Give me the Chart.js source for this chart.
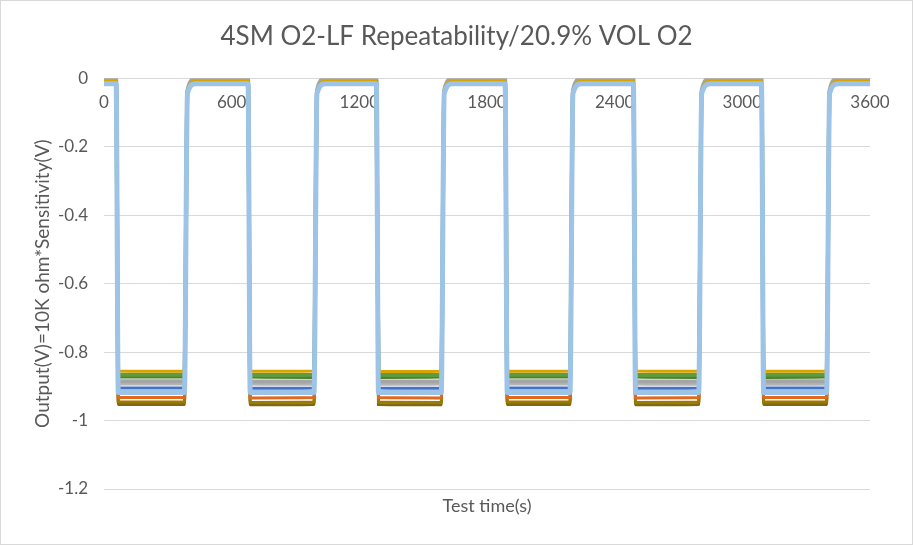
<!DOCTYPE html>
<html>
<head>
<meta charset="utf-8">
<script src="https://cdn.jsdelivr.net/npm/chart.js@4/dist/chart.umd.min.js"></script>
<style>
  body { margin: 0; background: #fff; }
  #wrap { position: relative; width: 913px; height: 545px; }
  #frame { position: absolute; left: 0; top: 0; width: 911px; height: 543px; border: 1px solid #d9d9d9; pointer-events: none; }
</style>
</head>
<body>
<div id="wrap">
  <canvas id="myChart" width="913" height="545"></canvas>
  <div id="frame"></div>
</div>
<script>
// test time (s) at the traced points of the curves
var timeS = [0,
  57, 67, 378, 392, 430,
  677, 687, 987, 1001, 1040,
  1280, 1290, 1585, 1599, 1638,
  1885, 1895, 2190, 2204, 2243,
  2488, 2498, 2795, 2809, 2848,
  3090, 3100, 3396, 3410, 3449,
  3600];

// output (V) of each sensor at those times
var lightBlue = [-0.016,
  -0.016, -0.918, -0.918, -0.045, -0.016,
  -0.016, -0.918, -0.918, -0.045, -0.016,
  -0.016, -0.918, -0.918, -0.045, -0.016,
  -0.016, -0.918, -0.918, -0.045, -0.016,
  -0.016, -0.918, -0.918, -0.045, -0.016,
  -0.016, -0.918, -0.918, -0.045, -0.016,
  -0.016];
var gold = [-0.008,
  -0.008, -0.855, -0.856, -0.040, -0.008,
  -0.008, -0.856, -0.855, -0.040, -0.008,
  -0.008, -0.857, -0.856, -0.040, -0.008,
  -0.008, -0.856, -0.855, -0.040, -0.008,
  -0.008, -0.855, -0.856, -0.040, -0.008,
  -0.008, -0.856, -0.855, -0.040, -0.008,
  -0.008];
var green = [-0.012,
  -0.012, -0.866, -0.866, -0.042, -0.012,
  -0.012, -0.867, -0.866, -0.042, -0.012,
  -0.012, -0.866, -0.867, -0.042, -0.012,
  -0.012, -0.866, -0.866, -0.042, -0.012,
  -0.012, -0.867, -0.866, -0.042, -0.012,
  -0.012, -0.866, -0.866, -0.042, -0.012,
  -0.012];
var darkGreen = [-0.014,
  -0.014, -0.873, -0.873, -0.044, -0.014,
  -0.014, -0.873, -0.874, -0.044, -0.014,
  -0.014, -0.874, -0.873, -0.044, -0.014,
  -0.014, -0.873, -0.873, -0.044, -0.014,
  -0.014, -0.873, -0.874, -0.044, -0.014,
  -0.014, -0.874, -0.873, -0.044, -0.014,
  -0.014];
var gray = [-0.001,
  -0.001, -0.885, -0.885, -0.035, -0.001,
  -0.001, -0.886, -0.885, -0.035, -0.001,
  -0.001, -0.885, -0.886, -0.035, -0.001,
  -0.001, -0.885, -0.885, -0.035, -0.001,
  -0.001, -0.886, -0.885, -0.035, -0.001,
  -0.001, -0.885, -0.885, -0.035, -0.001,
  -0.001];
var gray2 = [-0.010,
  -0.010, -0.893, -0.893, -0.040, -0.010,
  -0.010, -0.893, -0.894, -0.040, -0.010,
  -0.010, -0.894, -0.893, -0.040, -0.010,
  -0.010, -0.893, -0.893, -0.040, -0.010,
  -0.010, -0.893, -0.894, -0.040, -0.010,
  -0.010, -0.894, -0.893, -0.040, -0.010,
  -0.010];
var blue = [-0.018,
  -0.018, -0.905, -0.905, -0.048, -0.018,
  -0.018, -0.906, -0.905, -0.048, -0.018,
  -0.018, -0.905, -0.906, -0.048, -0.018,
  -0.018, -0.905, -0.905, -0.048, -0.018,
  -0.018, -0.906, -0.905, -0.048, -0.018,
  -0.018, -0.905, -0.905, -0.048, -0.018,
  -0.018];
var orange = [-0.012,
  -0.012, -0.933, -0.933, -0.045, -0.012,
  -0.012, -0.934, -0.933, -0.045, -0.012,
  -0.012, -0.933, -0.934, -0.045, -0.012,
  -0.012, -0.933, -0.933, -0.045, -0.012,
  -0.012, -0.934, -0.933, -0.045, -0.012,
  -0.012, -0.933, -0.933, -0.045, -0.012,
  -0.012];
var olive = [-0.009,
  -0.009, -0.946, -0.946, -0.042, -0.009,
  -0.009, -0.947, -0.946, -0.042, -0.009,
  -0.009, -0.946, -0.947, -0.042, -0.009,
  -0.009, -0.946, -0.946, -0.042, -0.009,
  -0.009, -0.947, -0.946, -0.042, -0.009,
  -0.009, -0.946, -0.946, -0.042, -0.009,
  -0.009];
var darkOlive = [-0.015,
  -0.015, -0.953, -0.953, -0.046, -0.015,
  -0.015, -0.954, -0.953, -0.046, -0.015,
  -0.015, -0.953, -0.954, -0.046, -0.015,
  -0.015, -0.953, -0.953, -0.046, -0.015,
  -0.015, -0.954, -0.953, -0.046, -0.015,
  -0.015, -0.953, -0.953, -0.046, -0.015,
  -0.015];

var yTicks = [0, -0.2, -0.4, -0.6, -0.8, -1, -1.2];
var xTicks = [0, 600, 1200, 1800, 2400, 3000, 3600];

function pts(vals) {
  return timeS.map(function (t, i) { return { x: t, y: vals[i] }; });
}

function line(label, vals, color, width) {
  return {
    label: label,
    data: pts(vals),
    borderColor: color,
    backgroundColor: color,
    borderWidth: width,
    pointRadius: 0,
    cubicInterpolationMode: 'monotone',
    fill: false
  };
}

var gridColor = '#d9d9d9';
var textColor = '#595959';
var fontName = 'Lato';

var ctx = document.getElementById('myChart').getContext('2d');
var chart = new Chart(ctx, {
  type: 'line',
  data: {
    datasets: [
      // first dataset is drawn on top
      line('S1', lightBlue, '#9dc3e6', 5),
      line('S2', blue, '#4472c4', 3),
      line('S3', gold, '#d9a400', 3),
      line('S4', green, '#5e9b3c', 4),
      line('S5', darkGreen, '#4f7f32', 3),
      line('S6', gray, '#a5a5a5', 4),
      line('S7', gray2, '#b4b4b4', 3),
      line('S8', orange, '#e0681f', 3),
      line('S9', olive, '#9c7a00', 3),
      line('S10', darkOlive, '#7f6a10', 3)
    ]
  },
  options: {
    responsive: false,
    animation: false,
    layout: { padding: 0 },
    plugins: {
      legend: { display: false },
      tooltip: { enabled: false },
      title: {
        display: true,
        text: '4SM O2-LF Repeatability/20.9% VOL O2',
        color: textColor,
        font: { family: fontName, size: 26, weight: 'normal' },
        padding: { top: 21, bottom: 26 }
      }
    },
    scales: {
      x: {
        type: 'linear',
        position: { y: 0 },
        min: 0,
        max: 3600,
        afterBuildTicks: function (s) { s.ticks = xTicks.map(function (v) { return { value: v }; }); },
        ticks: {
          color: textColor,
          font: { family: fontName, size: 17 },
          padding: 14,
          maxRotation: 0,
          callback: function (v) { return String(v); }
        },
        grid: { display: false, drawTicks: false },
        border: { display: true, color: gridColor, width: 1 }
      },
      // carries the axis title under the plot
      xTitle: {
        type: 'linear',
        position: 'bottom',
        axis: 'x',
        min: 0,
        max: 3600,
        afterFit: function (s) { s.height = 56; },
        ticks: { display: false },
        grid: { display: false, drawTicks: false },
        border: { display: false },
        title: {
          display: true,
          text: 'Test time(s)',
          color: textColor,
          font: { family: fontName, size: 18, weight: 'normal' },
          padding: { top: 6, bottom: 28 }
        }
      },
      y: {
        min: -1.2,
        max: 0,
        afterBuildTicks: function (s) { s.ticks = yTicks.map(function (v) { return { value: v }; }); },
        afterFit: function (s) { s.width = 104; },
        ticks: {
          color: textColor,
          font: { family: fontName, size: 17 },
          padding: 16,
          callback: function (v) { return String(v); }
        },
        grid: { color: gridColor, lineWidth: 1, drawTicks: false },
        border: { display: false },
        title: {
          display: true,
          text: 'Output(V)=10K ohm*Sensitivity(V)',
          color: textColor,
          font: { family: fontName, size: 19, weight: 'normal' },
          padding: { top: 31, bottom: 0 }
        }
      },
      // keeps the right margin beside the plot
      yRight: {
        position: 'right',
        axis: 'y',
        min: -1.2,
        max: 0,
        afterFit: function (s) { s.width = 43; },
        ticks: { display: false },
        grid: { display: false, drawTicks: false },
        border: { display: false }
      }
    }
  }
});
</script>
</body>
</html>
